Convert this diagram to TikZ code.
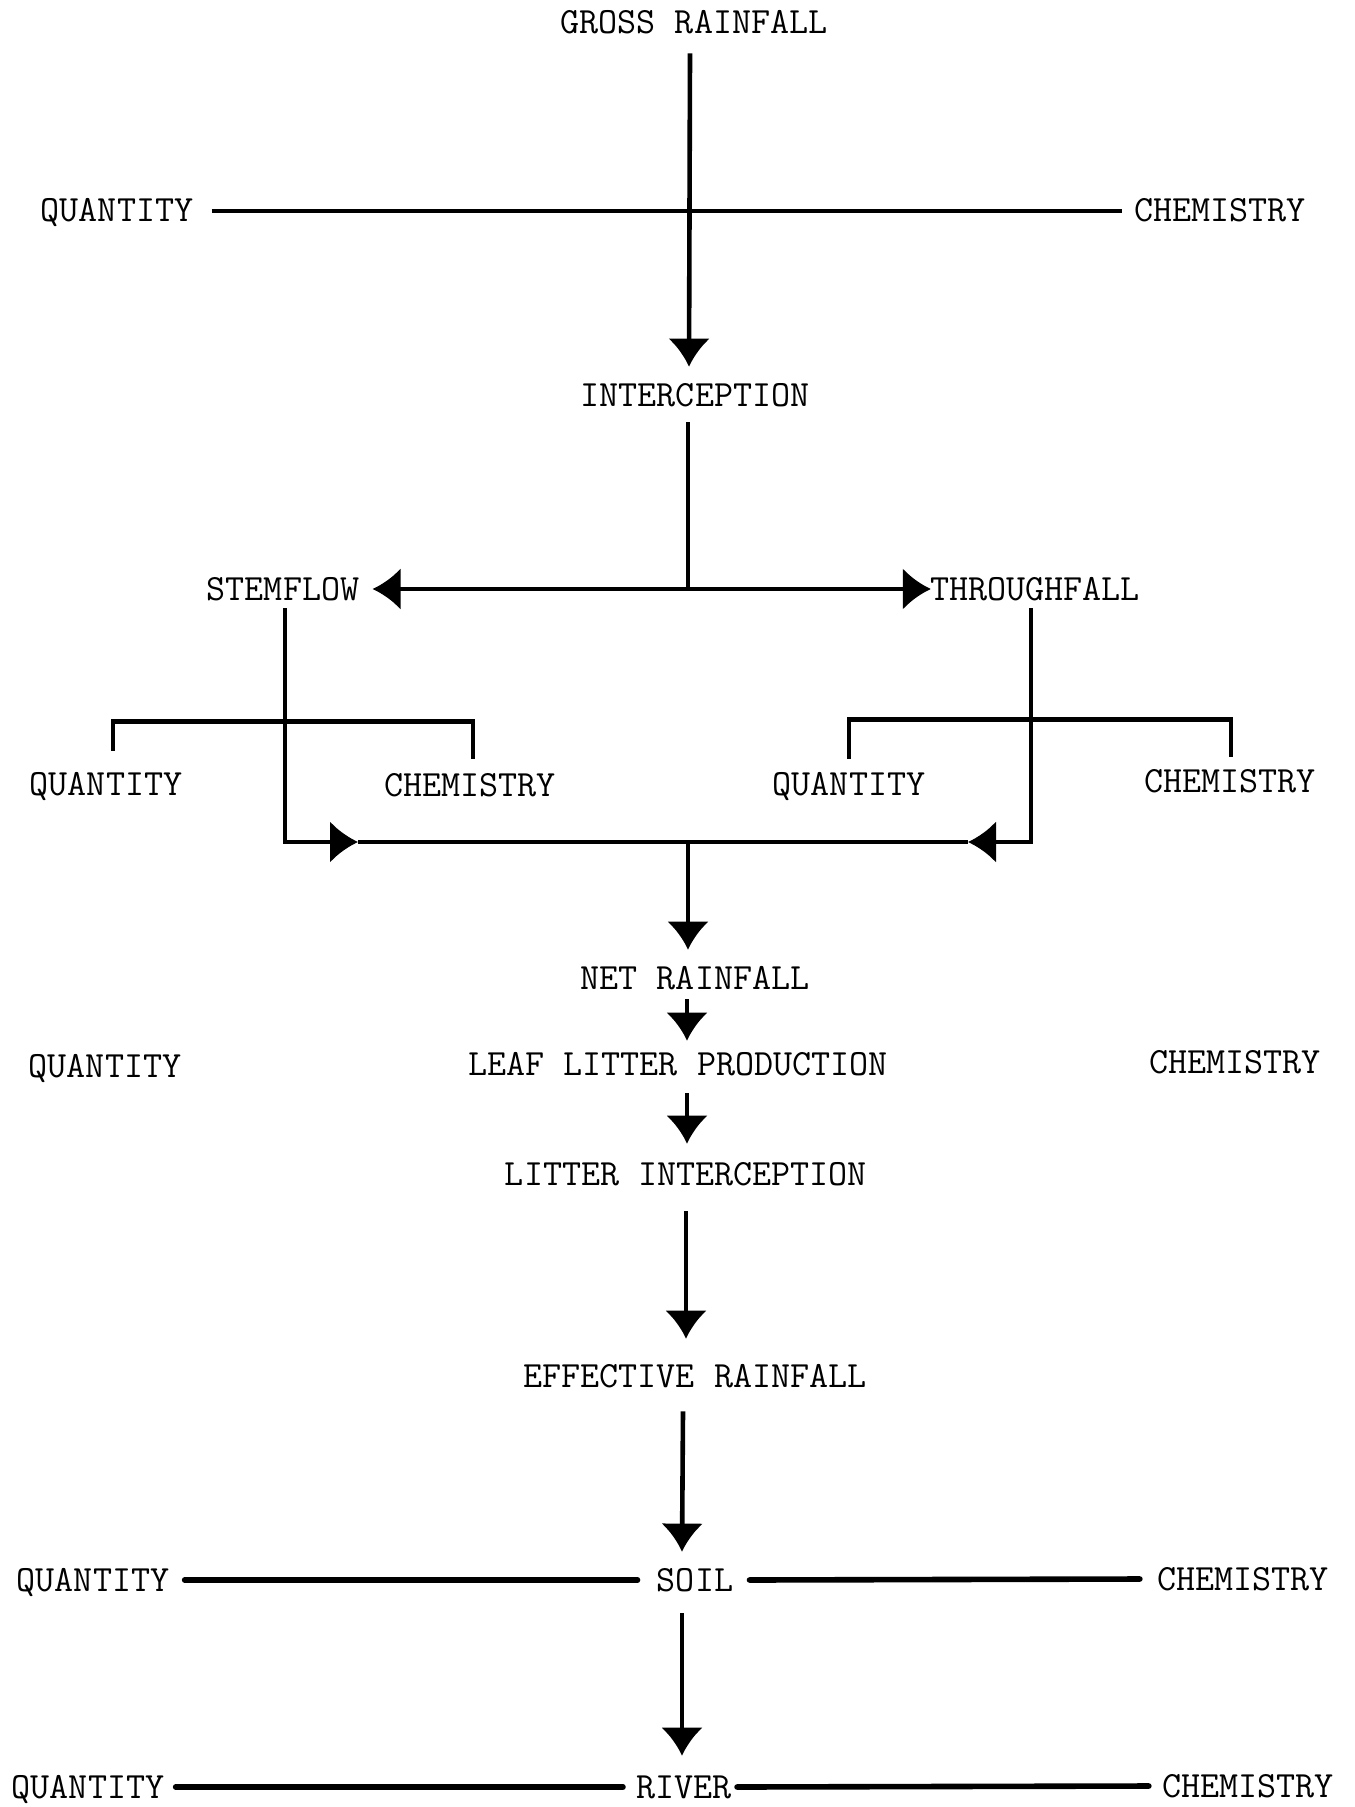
\documentclass[tikz,border=0pt]{standalone}
\usepackage{fontspec}
\usetikzlibrary{arrows.meta,calc}
\begin{document}
\begin{tikzpicture}[x=0.5pt,y=-0.5pt,
  lab/.style={font=\ttfamily\fontsize{18.5pt}{22pt}\selectfont, inner sep=0pt, text height=11pt, text depth=0pt},
  ln/.style={line width=2.3pt},
  thk/.style={line width=2.8pt, line cap=round},
  arr/.style={ln,-{Latex[length=14pt,width=21pt]}}]
\useasboundingbox (0,0) rectangle (1354,1807);
% labels
\node[lab] (gr) at (694,23)   {GROSS RAINFALL};
\node[lab] (q1) at (117,211)  {QUANTITY};
\node[lab] (c1) at (1220,211) {CHEMISTRY};
\node[lab] (ic) at (695,396)  {INTERCEPTION};
\node[lab] (sf) at (283,589)  {STEMFLOW};
\node[lab] (tf) at (1035,589) {THROUGHFALL};
\node[lab] (q2) at (106,784)  {QUANTITY};
\node[lab] (c2) at (470,785)  {CHEMISTRY};
\node[lab] (q3) at (849,784)  {QUANTITY};
\node[lab] (c3) at (1230,781) {CHEMISTRY};
\node[lab] (nr) at (695,978)  {NET RAINFALL};
\node[lab] (ll) at (678,1064) {LEAF LITTER PRODUCTION};
\node[lab] (q4) at (105,1066) {QUANTITY};
\node[lab] (c4) at (1235,1062){CHEMISTRY};
\node[lab] (li) at (686,1174) {LITTER INTERCEPTION};
\node[lab] (er) at (695,1376) {EFFECTIVE RAINFALL};
\node[lab] (so) at (695,1580) {SOIL};
\node[lab] (q5) at (93,1580)  {QUANTITY};
\node[lab] (c5) at (1243,1579){CHEMISTRY};
\node[lab] (rv) at (684,1787) {RIVER};
\node[lab] (q6) at (88,1787)  {QUANTITY};
\node[lab] (c6) at (1248,1786){CHEMISTRY};
% junction points
\coordinate (split) at (688,589);
\coordinate (mjL) at (358,842);
\coordinate (mjR) at (968,842);
\coordinate (join) at (688,842);
% top
\draw[arr] ($(gr.south)+(-4,19)$) -- ($(ic.north)+(-6,-18)$);
\draw[ln] ($(q1.east)+(18,0)$) -- ($(c1.west)+(-12,0)$);
% interception split
\draw[ln] ($(ic.south)+(-7,15)$) -- (split);
\draw[arr] (split) -- ($(sf.east)+(13,0)$);
\draw[arr] (split) -- ($(tf.west)+(1,0)$);
% brackets
\draw[ln] ($(q2.north)+(7,-22)$) -- ($(q2.north)+(7,-51)$) -| ($(c2.north)+(3,-15)$);
\draw[ln] ($(q3.north)+(0,-14)$) -- ($(q3.north)+(0,-53)$) -| ($(c3.north)+(1,-13)$);
% stemflow / throughfall down to merge
\draw[arr] ($(sf.south)+(2,8)$) |- (mjL);
\draw[arr] ($(tf.south)+(-4,8)$) |- (mjR);
\draw[ln] (mjL) -- (mjR);
\draw[arr] (join) -- ($(nr.north)+(-7,-17)$);
% central chain
\draw[arr] ($(nr.south)+(-8,10)$) -- ($(ll.north)+(9,-12)$);
\draw[arr] ($(ll.south)+(9,18)$) -- ($(li.north)+(1,-19)$);
\draw[arr] ($(li.south)+(0,26)$) -- ($(er.north)+(-9,-26)$);
\draw[arr] ($(er.south)+(-12,24)$) -- ($(so.north)+(-13,-17)$);
\draw[arr] ($(so.south)+(-13,22)$) -- ($(rv.north)+(-2,-20)$);
% soil row
\draw[thk] ($(q5.east)+(15,0)$) -- ($(so.west)+(-19,0)$);
\draw[thk] ($(so.east)+(16,0)$) -- ($(c5.west)+(-17,0)$);
% river row
\draw[thk] ($(q6.east)+(11,0)$) -- ($(rv.west)+(-13,0)$);
\draw[thk] ($(rv.east)+(5,0)$) -- ($(c6.west)+(-13,0)$);
\end{tikzpicture}
\end{document}
